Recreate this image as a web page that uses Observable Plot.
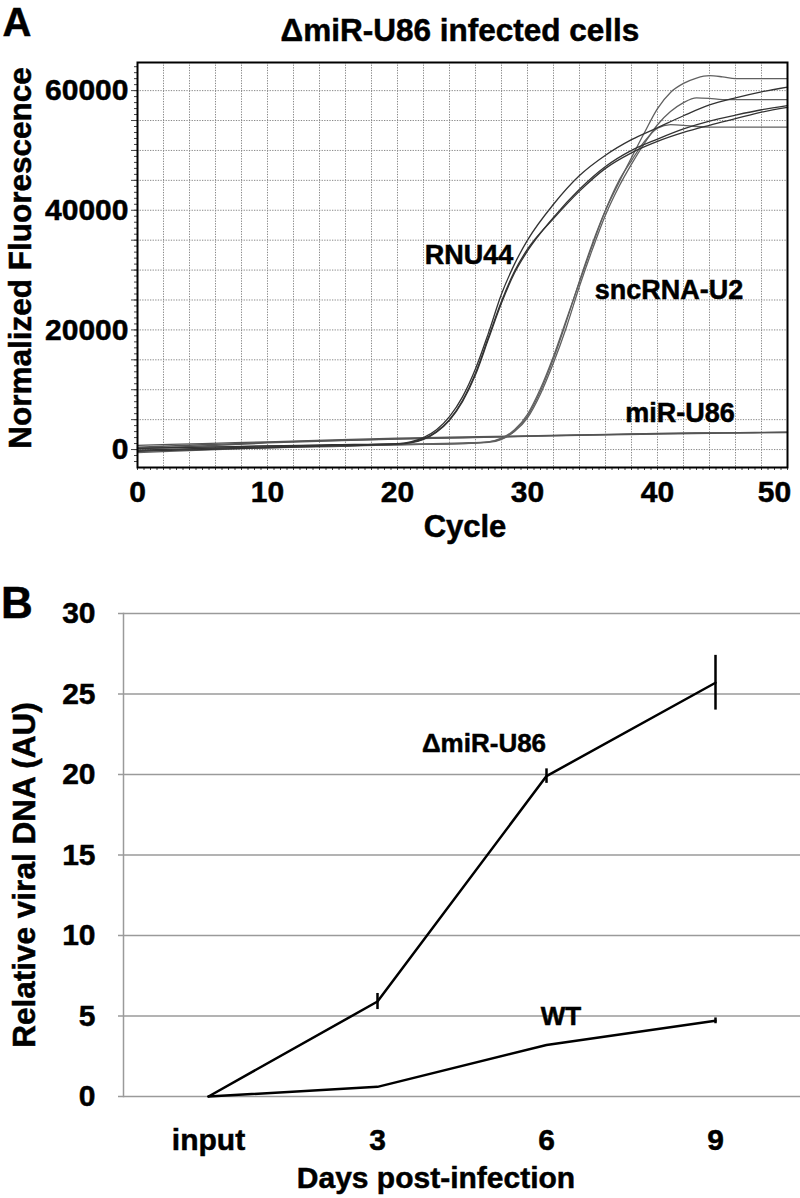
<!DOCTYPE html>
<html><head><meta charset="utf-8">
<script src="https://cdn.jsdelivr.net/npm/d3@7"></script>
<script src="https://cdn.jsdelivr.net/npm/@observablehq/plot@0.6"></script>
<style>
body{margin:0;background:#fff;}
#wrap{position:relative;width:800px;height:1198px;overflow:hidden;font-family:"Liberation Sans",Arial,sans-serif;font-weight:bold;color:#000;}
.lab{position:absolute;transform:translate(-50%,-50%);line-height:1;white-space:nowrap;-webkit-text-stroke:0.5px #000;}
.rot{transform:translate(-50%,-50%) rotate(-90deg);}
#pa{position:absolute;left:0;top:0;}
#pb{position:absolute;left:0;top:560px;}
svg text{stroke:#000;stroke-width:0.5px;}
</style></head>
<body>
<div id="wrap">
  <div id="pa"></div>
  <div id="pb"></div>
  <div class="lab" style="left:17px;top:22px;font-size:40px;">A</div>
  <div class="lab" style="left:460px;top:31px;font-size:31.5px;">ΔmiR-U86 infected cells</div>
  <div class="lab rot" style="left:21px;top:258px;font-size:31.5px;">Normalized Fluorescence</div>
  <div class="lab" style="left:465px;top:526px;font-size:31px;">Cycle</div>
  <div class="lab" style="left:469px;top:255px;font-size:27px;">RNU44</div>
  <div class="lab" style="left:669px;top:290px;font-size:27px;">sncRNA-U2</div>
  <div class="lab" style="left:680px;top:413px;font-size:27px;">miR-U86</div>
  <div class="lab" style="left:17px;top:603px;font-size:44px;">B</div>
  <div class="lab rot" style="left:25px;top:875px;font-size:31.5px;">Relative viral DNA (AU)</div>
  <div class="lab" style="left:436px;top:1178px;font-size:30px;">Days post-infection</div>
  <div class="lab" style="left:484px;top:743px;font-size:26px;">ΔmiR-U86</div>
  <div class="lab" style="left:561px;top:1016px;font-size:26px;">WT</div>
</div>
<script>
// ---------- Panel A data (qPCR amplification curves) ----------
const rnuCycles = [0,5,10,15,20,21,22,23,24,25,26,27,28,29,30,32,34,36,38,40,42,44,46,48,50];
const rnu44Rep1 = [200,400,600,800,1000,1300,2000,3300,5500,8800,13500,19500,26000,31000,35000,41000,45800,49200,51800,53800,55800,57600,58800,59800,60600];
const rnu44Rep2 = [-300,0,300,600,900,1100,1700,2900,4900,8000,12500,18500,24500,29500,33200,38800,43500,47300,50000,51900,53600,54900,55900,56800,57500];
const rnu44Rep3 = [-100,200,450,700,950,1200,1800,3000,5000,8200,12800,18800,24800,29800,33500,38600,43200,47000,49600,51500,53000,54200,55300,56400,57200];

const u2Cycles = [0,5,10,15,20,25,27,28,29,30,31,32,33,34,35,36,37,38,39,40,41,42,43,44,45,46,48,50];
const u2Rep1 = [-200,100,400,600,800,1000,1200,1700,3100,5600,9800,15200,21500,28200,34500,40000,44500,48800,53000,57000,59700,61200,62100,62500,62300,62000,62000,62000];
const u2Rep2 = [300,400,600,700,900,1100,1300,1800,3000,5300,9300,14500,20500,27300,33500,39200,43800,47700,51200,54300,56500,58000,58800,58700,58500,58500,58500,58500];
const u2Rep3 = [-500,-100,300,500,800,1000,1300,1900,3300,5900,10200,15600,21800,28000,34200,40000,44800,48300,51500,53700,54300,54200,54000,53900,53900,53900,53900,53900];

const mirCycles = [0,5,10,15,20,25,30,35,40,45,50];
const mirRep1 = [700,1000,1300,1600,1900,2100,2300,2500,2700,2800,2900];
const mirRep2 = [400,800,1200,1500,1800,2000,2250,2450,2650,2780,2880];
const mirRep3 = [100,600,1100,1450,1750,1950,2200,2400,2600,2750,2850];

const xTicksA = [0,10,20,30,40,50];
const yTicksA = [0,20000,40000,60000];

// ---------- Panel B data ----------
const days = ["input","3","6","9"];
const mutMean = [0, 5.9, 19.9, 25.7];
const mutErr  = [0, 0.5, 0.45, 1.7];
const wtMean  = [0, 0.6, 3.2, 4.7];
const wtErr   = [0, 0, 0, 0.18];
const yTicksB = [0,5,10,15,20,25,30];

function rows(cycles, reps, target) {
  const out = [];
  reps.forEach((vals, r) => vals.forEach((v, i) => out.push({target, rep: target + r, cycle: cycles[i], value: v})));
  return out;
}
const rnu = rows(rnuCycles, [rnu44Rep1, rnu44Rep2, rnu44Rep3], "RNU44");
const u2 = rows(u2Cycles, [u2Rep1, u2Rep2, u2Rep3], "U2");
const mir = rows(mirCycles, [mirRep1, mirRep2, mirRep3], "MIR");

const font = {fontFamily: "'Liberation Sans', Arial, sans-serif", fontWeight: "bold", background: "transparent", overflow: "visible"};
const fmt = d3.format("d");
const dotted = {stroke: "#888", strokeOpacity: 1, strokeWidth: 1, strokeDasharray: "1.3,1.3"};

const plotA = Plot.plot({
  width: 800, height: 560,
  marginLeft: 137, marginRight: 13, marginTop: 62, marginBottom: 93,
  x: {domain: [0, 50]},
  y: {domain: [-3000, 64700]},
  style: font,
  marks: [
    Plot.gridX(d3.range(2, 50, 2), dotted),
    Plot.gridY(d3.range(0, 64001, 5000), dotted),
    Plot.line(mir, {x: "cycle", y: "value", z: "rep", stroke: "#555", strokeWidth: 1.3, curve: "monotone-x"}),
    Plot.line(u2, {x: "cycle", y: "value", z: "rep", stroke: "#606060", strokeWidth: 1.3, curve: "monotone-x"}),
    Plot.line(rnu, {x: "cycle", y: "value", z: "rep", stroke: "#333", strokeWidth: 1.3, curve: "monotone-x"}),
    Plot.axisY({ticks: d3.range(-2000, 64001, 1000), tickSize: 3, tickFormat: () => "", label: null, stroke: "#444"}),
    Plot.axisY({ticks: d3.range(0, 64001, 5000), tickSize: 6, tickFormat: () => "", label: null, stroke: "#444"}),
    Plot.axisY({ticks: yTicksA, tickSize: 0, tickPadding: 9, tickFormat: fmt, fontSize: 30, fontWeight: "bold", label: null}),
    Plot.axisX({ticks: d3.range(0, 50.01, 0.5), tickSize: 3, tickFormat: () => "", label: null, stroke: "#444"}),
    Plot.axisX({ticks: xTicksA.slice(0, 5), tickSize: 0, tickPadding: 13, tickFormat: fmt, fontSize: 30, fontWeight: "bold", label: null}),
    Plot.axisX({ticks: xTicksA.slice(5), tickSize: 0, tickPadding: 13, tickFormat: fmt, fontSize: 30, fontWeight: "bold", label: null, dx: -13}),
    Plot.frame({stroke: "#000", strokeWidth: 2})
  ]
});
document.getElementById("pa").appendChild(plotA);

const mut = days.map((d, i) => ({day: d, value: mutMean[i], err: mutErr[i]}));
const wt = days.map((d, i) => ({day: d, value: wtMean[i], err: wtErr[i]}));

const plotB = Plot.plot({
  width: 800, height: 638,
  marginLeft: 123, marginRight: 0, marginTop: 53, marginBottom: 102,
  x: {type: "point", domain: days, padding: 0.5, align: 0.5},
  y: {domain: [0, 30]},
  style: font,
  marks: [
    Plot.gridY(yTicksB, {stroke: "#9a9a9a", strokeOpacity: 1, strokeWidth: 1.5}),
    Plot.frame({anchor: "left", stroke: "#9a9a9a", strokeWidth: 1.5}),
    Plot.axisY({ticks: yTicksB, tickSize: 5, tickFormat: () => "", label: null, stroke: "#9a9a9a", strokeWidth: 1.5}),
    Plot.axisY({ticks: yTicksB, tickSize: 0, tickPadding: 28, tickFormat: fmt, fontSize: 30, fontWeight: "bold", label: null}),
    Plot.axisX({tickSize: 0, tickPadding: 32, fontSize: 30, fontWeight: "bold", label: null}),
    Plot.line(mut, {x: "day", y: "value", stroke: "#000", strokeWidth: 2.5}),
    Plot.line(wt, {x: "day", y: "value", stroke: "#000", strokeWidth: 2.5}),
    Plot.ruleX(mut.filter(d => d.err > 0), {x: "day", y1: d => d.value - d.err, y2: d => d.value + d.err, stroke: "#000", strokeWidth: 2.5}),
    Plot.ruleX(wt.filter(d => d.err > 0), {x: "day", y1: d => d.value - d.err, y2: d => d.value + d.err, stroke: "#000", strokeWidth: 2.5})
  ]
});
document.getElementById("pb").appendChild(plotB);
</script>
</body></html>
